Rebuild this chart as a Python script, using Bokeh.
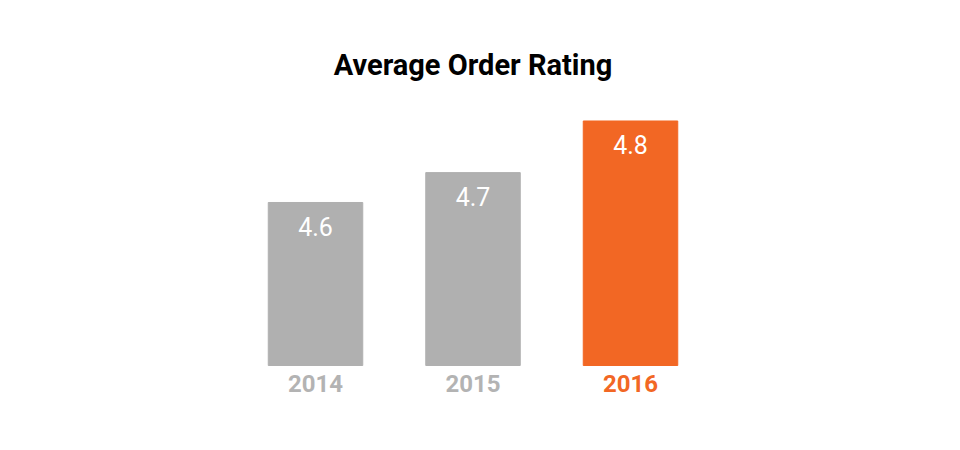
from bokeh.plotting import figure
from bokeh.models import Range1d, ColumnDataSource
from bokeh.core.properties import value
from bokeh.embed import file_html
from bokeh.resources import INLINE

years = ["2014", "2015", "2016"]
ratings = [4.6, 4.7, 4.8]          # displayed ratings
bar_heights = [4.60, 4.71, 4.90]   # bar heights as drawn in the picture
bar_colors = ["#B0B0B0", "#B0B0B0", "#F26724"]
year_colors = ["#B3B3B3", "#B3B3B3", "#F26724"]
title_text = "Average Order Rating"

W, H = 944, 434
base = 4.0
px_per_unit = 271.67
base_px = 365  # figure y of baseline
y_top = base + base_px / px_per_unit
y_bot = base - (H - base_px) / px_per_unit
x_per_px = 1 / 157.5
x_start = -315 * x_per_px
x_end = x_start + W * x_per_px

p = figure(width=W, height=H, output_backend="svg", toolbar_location=None,
           x_range=Range1d(x_start, x_end), y_range=Range1d(y_bot, y_top),
           min_border=0, outline_line_color=None)
p.axis.visible = False
p.grid.visible = False
p.background_fill_color = "white"
p.border_fill_color = "white"

xs = list(range(len(years)))
src = ColumnDataSource(dict(x=xs, top=bar_heights, color=bar_colors,
                            label=[f"{r:.1f}" for r in ratings],
                            year=years, ycolor=year_colors,
                            ylab=[base] * len(years)))

p.vbar(x="x", top="top", bottom=base, width=0.6, color="color", source=src)
p.text(x="x", y="top", text="label", source=src, text_color="white",
       text_font=value("Roboto"), text_font_size="25px",
       text_align="center", text_baseline="middle", y_offset=24)
p.text(x="x", y="ylab", text="year", source=src, text_color="ycolor",
       text_font=value("Roboto"), text_font_style="bold", text_font_size="24px",
       text_align="center", text_baseline="middle", y_offset=18)
p.text(x=[1], y=[y_top], text=[title_text], text_color="black",
       text_font=value("Roboto"), text_font_style="bold", text_font_size="29px",
       text_align="center", text_baseline="middle", y_offset=64)

open("out.html", "w").write(file_html(p, INLINE))
